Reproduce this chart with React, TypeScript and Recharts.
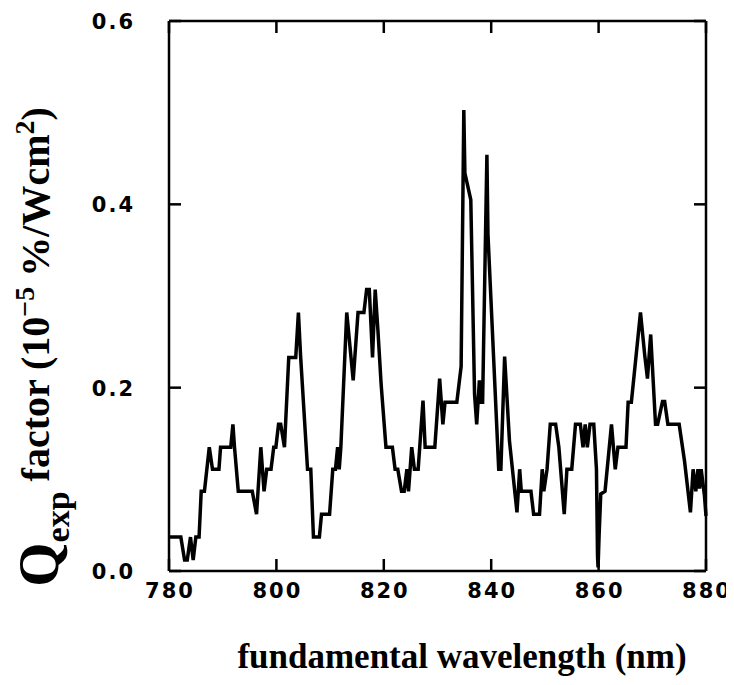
import React from 'react';
import { LineChart, Line, XAxis, YAxis, Label } from 'recharts';

const wavelength = [
  780.0, 782.2, 782.9, 783.4, 784.0, 784.5, 785.0, 785.6, 786.0, 786.6,
  787.5, 788.1, 789.3, 789.6, 791.5, 791.9, 792.2, 792.9, 795.5, 796.3,
  797.1, 797.7, 798.2, 799.0, 799.5, 799.9, 800.4, 800.8, 801.5, 802.3,
  803.6, 804.1, 804.5, 805.8, 806.4, 806.9, 808.0, 808.4, 809.9, 810.5,
  811.0, 811.4, 811.7, 812.0, 813.1, 814.3, 815.2, 816.3, 816.8, 817.3,
  817.9, 818.4, 818.9, 819.5, 820.4, 821.6, 822.1, 822.6, 823.3, 823.8,
  824.3, 824.6, 825.2, 825.7, 826.4, 827.3, 827.7, 829.5, 830.4, 831.0,
  831.4, 833.6, 834.4, 834.9, 835.1, 836.2, 836.9, 837.3, 837.8, 838.1,
  838.4, 839.2, 839.4, 841.4, 841.8, 842.5, 843.4, 844.8, 845.3, 845.6,
  847.4, 847.9, 849.0, 849.5, 849.8, 850.4, 851.0, 852.0, 852.6, 853.6,
  854.1, 855.0, 855.7, 856.6, 857.1, 857.5, 857.9, 858.4, 859.1, 859.6,
  859.8, 859.9, 860.1, 860.4, 861.2, 862.4, 863.1, 863.6, 865.1, 865.5,
  866.1, 867.8, 868.6, 869.1, 869.7, 870.6, 871.0, 871.9, 872.3, 872.9,
  875.0, 876.0, 877.1, 877.6, 878.1, 878.5, 878.8, 879.1, 879.7, 880.0,
];

const qFactor = [
  0.037, 0.037, 0.012, 0.012, 0.037, 0.012, 0.037, 0.037, 0.087, 0.087,
  0.135, 0.111, 0.111, 0.135, 0.135, 0.160, 0.135, 0.087, 0.087, 0.062,
  0.135, 0.087, 0.111, 0.111, 0.135, 0.135, 0.160, 0.160, 0.135, 0.233,
  0.233, 0.282, 0.235, 0.111, 0.111, 0.037, 0.037, 0.062, 0.062, 0.111,
  0.111, 0.135, 0.111, 0.135, 0.282, 0.208, 0.282, 0.282, 0.307, 0.307,
  0.233, 0.307, 0.263, 0.204, 0.135, 0.135, 0.111, 0.111, 0.087, 0.087,
  0.111, 0.087, 0.135, 0.111, 0.111, 0.186, 0.135, 0.135, 0.210, 0.160,
  0.184, 0.184, 0.223, 0.503, 0.434, 0.405, 0.193, 0.160, 0.208, 0.184,
  0.184, 0.454, 0.367, 0.111, 0.111, 0.234, 0.142, 0.064, 0.111, 0.087,
  0.087, 0.062, 0.062, 0.111, 0.087, 0.111, 0.160, 0.160, 0.135, 0.062,
  0.111, 0.111, 0.160, 0.160, 0.135, 0.160, 0.135, 0.160, 0.160, 0.111,
  0.016, 0.004, 0.040, 0.084, 0.087, 0.160, 0.111, 0.135, 0.135, 0.184,
  0.184, 0.282, 0.235, 0.210, 0.258, 0.160, 0.160, 0.185, 0.185, 0.160,
  0.160, 0.120, 0.064, 0.111, 0.087, 0.111, 0.090, 0.111, 0.083, 0.060,
];

const xTicks = [780, 800, 820, 840, 860, 880];
const yTicks = [0, 0.2, 0.4, 0.6];

const data = wavelength.map((w, i) => ({ w, q: qFactor[i] }));

const TICK_LEN = 12;
const tickFont = {
  fontFamily: 'DejaVu Sans',
  fontSize: 21,
  fontWeight: 'bold' as const,
  letterSpacing: 2,
  fill: '#000',
};

const BottomTick = (props: any) => {
  const { x, y, payload } = props;
  return (
    <g>
      <line x1={x} y1={y} x2={x} y2={y - TICK_LEN} stroke="#000" strokeWidth={2.5} />
      <text x={x + 1} y={y + 27} textAnchor="middle" {...tickFont}>
        {payload.value}
      </text>
    </g>
  );
};

const TopTick = (props: any) => {
  const { x, y } = props;
  return <line x1={x} y1={y} x2={x} y2={y + TICK_LEN} stroke="#000" strokeWidth={2.5} />;
};

const LeftTick = (props: any) => {
  const { x, y, payload } = props;
  return (
    <g>
      <line x1={x} y1={y} x2={x + TICK_LEN} y2={y} stroke="#000" strokeWidth={2.5} />
      <text x={x - 34} y={y + 8} textAnchor="end" {...tickFont}>
        {Number(payload.value).toFixed(1)}
      </text>
    </g>
  );
};

const RightTick = (props: any) => {
  const { x, y } = props;
  return <line x1={x} y1={y} x2={x - TICK_LEN} y2={y} stroke="#000" strokeWidth={2.5} />;
};

const YTitle = () => {
  const cx = 50;
  const cy = 339;
  return (
    <text
      x={cx}
      y={cy}
      transform={`rotate(-90, ${cx}, ${cy})`}
      textAnchor="middle"
      fontFamily="Liberation Serif"
      fontWeight="bold"
      fill="#000"
    >
      <tspan fontSize={57}>Q</tspan>
      <tspan fontSize={34} dy={11}>exp</tspan>
      <tspan fontSize={40} dy={-20}>{' factor (10'}</tspan>
      <tspan fontSize={28} dy={-15}>{'\u22125'}</tspan>
      <tspan fontSize={40} dy={15}>{' %/Wcm'}</tspan>
      <tspan fontSize={28} dy={-15}>2</tspan>
      <tspan fontSize={40} dy={15}>)</tspan>
    </text>
  );
};

const XTitle = () => (
  <text
    x={454}
    y={660}
    textAnchor="middle"
    fontFamily="Liberation Serif"
    fontWeight="bold"
    fontSize={35}
    fill="#000"
  >
    fundamental wavelength (nm)
  </text>
);

export default function App() {
  return (
    <LineChart
      width={726}
      height={677}
      data={data}
      margin={{ top: 12, right: 27, bottom: 54, left: 0 }}
    >
      <XAxis
        dataKey="w"
        type="number"
        domain={[780, 880]}
        ticks={xTicks}
        height={60}
        tickSize={0}
        tickMargin={0}
        tickLine={false}
        axisLine={{ stroke: '#000', strokeWidth: 2.5 }}
        tick={<BottomTick />}
        interval={0}
      >
        <Label content={<XTitle />} />
      </XAxis>
      <XAxis
        xAxisId="top"
        orientation="top"
        dataKey="w"
        type="number"
        domain={[780, 880]}
        ticks={xTicks}
        height={1}
        tickSize={0}
        tickMargin={0}
        tickLine={false}
        axisLine={{ stroke: '#000', strokeWidth: 2.5 }}
        tick={<TopTick />}
        interval={0}
      />
      <YAxis
        type="number"
        domain={[0, 0.6]}
        ticks={yTicks}
        width={161}
        tickSize={0}
        tickMargin={0}
        tickLine={false}
        axisLine={{ stroke: '#000', strokeWidth: 2.5 }}
        tick={<LeftTick />}
        interval={0}
      >
        <Label content={<YTitle />} />
      </YAxis>
      <YAxis
        yAxisId="right"
        orientation="right"
        type="number"
        domain={[0, 0.6]}
        ticks={yTicks}
        width={1}
        tickSize={0}
        tickMargin={0}
        tickLine={false}
        axisLine={{ stroke: '#000', strokeWidth: 2.5 }}
        tick={<RightTick />}
        interval={0}
      />
      <Line
        type="linear"
        dataKey="q"
        stroke="#000"
        strokeWidth={3.5}
        dot={false}
        isAnimationActive={false}
      />
      <Line
        xAxisId="top"
        yAxisId="right"
        type="linear"
        dataKey="q"
        stroke="none"
        strokeWidth={0}
        dot={false}
        activeDot={false}
        legendType="none"
        isAnimationActive={false}
      />
    </LineChart>
  );
}
